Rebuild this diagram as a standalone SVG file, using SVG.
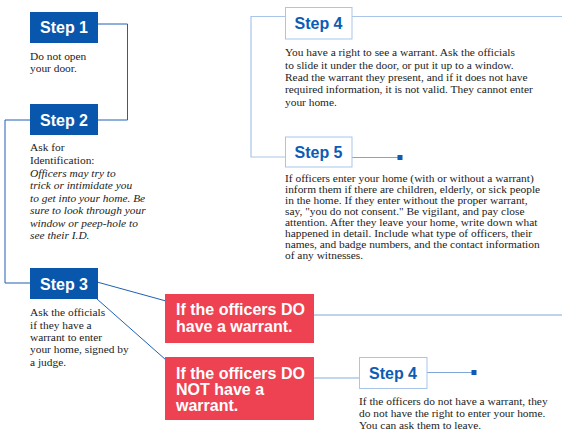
<svg xmlns="http://www.w3.org/2000/svg" width="562" height="430" viewBox="0 0 562 430">
<style>
.bg{fill:#ffffff}
.sbox{fill:#0857ad}
.slabel{font-family:"Liberation Sans",Arial,sans-serif;font-weight:bold;font-size:16px;fill:#ffffff;text-anchor:middle}
.obox{fill:#ffffff;stroke:#a9c5ea;stroke-width:1}
.olabel{font-family:"Liberation Sans",Arial,sans-serif;font-weight:bold;font-size:16px;fill:#0c5cb5;text-anchor:middle}
.rbox{fill:#ee4152}
.rlabel{font-family:"Liberation Sans",Arial,sans-serif;font-weight:bold;font-size:16px;fill:#ffffff}
.body{font-family:"Liberation Serif","Times New Roman",serif;font-size:11.4px;fill:#222222}
.it{font-style:italic}
.dark{fill:none;stroke:#1f60b3;stroke-width:1}
.light{fill:none;stroke:#a9c5ea;stroke-width:1.2}
.lighter{fill:none;stroke:#c3d6ee;stroke-width:2}
.mid{fill:none;stroke:#7fa6da;stroke-width:1}
.dot{fill:#0c5cb5}
</style>
<rect class="bg" x="0" y="0" width="562" height="430"/>
<g id="connectors">
<polyline class="dark" points="98,24 127.5,24 127.5,120 98,120"/>
<polyline class="dark" points="30,120 5,120 5,283 30,283"/>
<line class="dark" x1="97" y1="282" x2="166" y2="301"/>
<line class="dark" x1="97" y1="299" x2="166" y2="360"/>
<line class="mid" x1="314" y1="315" x2="562" y2="315"/>
<line class="lighter" x1="314" y1="378" x2="359" y2="378"/>
<line class="mid" x1="427" y1="372.5" x2="472" y2="372.5"/>
<rect class="dot" x="471.5" y="370" width="5" height="5"/>
<line class="light" x1="352" y1="16.5" x2="562" y2="16.5"/>
<polyline class="light" points="285,16.5 251,16.5 251,157 285,157"/>
<line class="mid" x1="352" y1="157.5" x2="398" y2="157.5"/>
<rect class="dot" x="397.5" y="155" width="5" height="5"/>
</g>
<g id="step1">
<rect class="sbox" x="30" y="12" width="68" height="31"/>
<text class="slabel" x="64" y="33">Step 1</text>
<text class="body" x="30" y="60">Do not open</text>
<text class="body" x="30" y="72">your door.</text>
</g>
<g id="step2">
<rect class="sbox" x="30" y="104" width="68" height="31"/>
<text class="slabel" x="64" y="125.5">Step 2</text>
<text class="body" x="30" y="151">Ask for</text>
<text class="body" x="30" y="164">Identification:</text>
<text class="body it" x="30" y="176.5">Officers may try to</text>
<text class="body it" x="30" y="189">trick or intimidate you</text>
<text class="body it" x="30" y="201.5">to get into your home. Be</text>
<text class="body it" x="30" y="214">sure to look through your</text>
<text class="body it" x="30" y="226.5">window or peep-hole to</text>
<text class="body it" x="30" y="239">see their I.D.</text>
</g>
<g id="step3">
<rect class="sbox" x="30" y="268" width="68" height="31"/>
<text class="slabel" x="64" y="289.5">Step 3</text>
<text class="body" x="30" y="316">Ask the officials</text>
<text class="body" x="30" y="328.5">if they have a</text>
<text class="body" x="30" y="341">warrant to enter</text>
<text class="body" x="30" y="353">your home, signed by</text>
<text class="body" x="30" y="365.5">a judge.</text>
</g>
<g id="warrant-yes">
<rect class="rbox" x="165" y="294" width="149" height="49"/>
<text class="rlabel" x="176" y="315">If the officers DO</text>
<text class="rlabel" x="176" y="331.5">have a warrant.</text>
</g>
<g id="warrant-no">
<rect class="rbox" x="165" y="357" width="149" height="63"/>
<text class="rlabel" x="176" y="379">If the officers DO</text>
<text class="rlabel" x="176" y="395">NOT have a</text>
<text class="rlabel" x="176" y="410.5">warrant.</text>
</g>
<g id="step4-top">
<rect class="obox" x="285.5" y="7.5" width="66.5" height="31.5"/>
<text class="olabel" x="318.5" y="29">Step 4</text>
<text class="body" x="285" y="56">You have a right to see a warrant. Ask the officials</text>
<text class="body" x="285" y="68.5">to slide it under the door, or put it up to a window.</text>
<text class="body" x="285" y="81">Read the warrant they present, and if it does not have</text>
<text class="body" x="285" y="93">required information, it is not valid. They cannot enter</text>
<text class="body" x="285" y="105.5">your home.</text>
</g>
<g id="step5">
<rect class="obox" x="285.5" y="137" width="66.5" height="30"/>
<text class="olabel" x="318.5" y="158">Step 5</text>
<text class="body" x="285" y="181.5">If officers enter your home (with or without a warrant)</text>
<text class="body" x="285" y="192.5">inform them if there are children, elderly, or sick people</text>
<text class="body" x="285" y="203.5">in the home. If they enter without the proper warrant,</text>
<text class="body" x="285" y="214.5">say, "you do not consent." Be vigilant, and pay close</text>
<text class="body" x="285" y="225.5">attention. After they leave your home, write down what</text>
<text class="body" x="285" y="236.5">happened in detail. Include what type of officers, their</text>
<text class="body" x="285" y="247.5">names, and badge numbers, and the contact information</text>
<text class="body" x="285" y="258.5">of any witnesses.</text>
</g>
<g id="step4-bottom">
<rect class="obox" x="359.5" y="357.5" width="67.5" height="31"/>
<text class="olabel" x="393" y="379">Step 4</text>
<text class="body" x="359" y="404.5">If the officers do not have a warrant, they</text>
<text class="body" x="359" y="417">do not have the right to enter your home.</text>
<text class="body" x="359" y="429">You can ask them to leave.</text>
</g>
</svg>
